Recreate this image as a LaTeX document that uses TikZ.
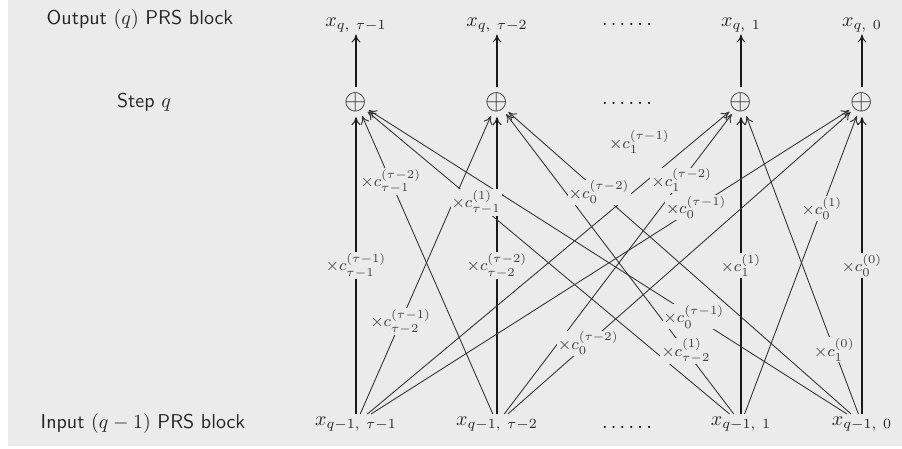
\documentclass[tikz,border=0pt]{standalone}
\usepackage{amsmath, amssymb}
\usepackage{tikz}
\usetikzlibrary{arrows.meta, positioning}
\definecolor{panelgray}{RGB}{235,235,235}
\definecolor{wiregray}{RGB}{55,55,55}
\tikzset{>={To[length=4pt, width=4.5pt, line width=0.5pt]}}
\tikzset{
  varlabel/.style={inner sep=1pt, text=black!85},
  plusnode/.style={circle, inner sep=0pt, font=\Large, text=black!85},
  blocktext/.style={font=\sffamily, text=black!85},
  thickwire/.style={->, line width=1.3pt, draw=black!90},
  thinwire/.style={->, line width=0.45pt, draw=wiregray},
  coef/.style={font=\footnotesize, fill=panelgray, inner sep=0.6pt, text=black!75},
}
% in/out/pos/label
\newcommand\coeflist{
  1/1/0.50/{$\times c^{(\tau-1)}_{\tau-1}$},
  1/2/0.31/{$\times c^{(\tau-1)}_{\tau-2}$},
  1/4/0.68/{$\times c^{(\tau-1)}_{0}$},
  2/1/0.78/{$\times c^{(\tau-2)}_{\tau-1}$},
  2/2/0.50/{$\times c^{(\tau-2)}_{\tau-2}$},
  2/3/0.78/{$\times c^{(\tau-2)}_{1}$},
  2/4/0.235/{$\times c^{(\tau-2)}_{0}$},
  3/1/0.70/{$\times c^{(1)}_{\tau-1}$},
  3/2/0.21/{$\times c^{(1)}_{\tau-2}$},
  3/3/0.50/{$\times c^{(1)}_{1}$},
  3/4/0.69/{$\times c^{(1)}_{0}$},
  4/1/0.32/{$\times c^{(\tau-1)}_{0}$},
  4/2/0.735/{$\times c^{(\tau-2)}_{0}$},
  4/3/0.215/{$\times c^{(0)}_{1}$},
  4/4/0.50/{$\times c^{(0)}_{0}$}}

\begin{document}
\begin{tikzpicture}[x=0.5pt, y=-0.5pt]
  \useasboundingbox (0,0) rectangle (902,449);
  \fill[panelgray] (8,0) rectangle (902,446);
  % row titles
  \node[blocktext] (outtitle) at (140,20) {Output $(q)$ PRS block};
  \node[blocktext] (steptitle) at (144,102) {Step $q$};
  \node[blocktext] (intitle) at (143,424) {Input $(q-1)$ PRS block};
  % columns
  \foreach \n/\x/\s in {1/356/\tau-1, 2/497/\tau-2, 3/741/1, 4/862/0} {
    \node[varlabel] (out\n) at (\x,25) {$x_{q,\ \s}$};
    \node[plusnode] (plus\n) at (\x,102) {$\oplus$};
    \node[varlabel, anchor=north] (in\n) at (\x,414) {$x_{q-1,\ \s}$};
    \draw[thickwire] (plus\n) -- (out\n);
    \draw[thickwire] (in\n) -- (plus\n);
  }
  \node (dotsout) at (627,24) {$\ldots\ldots$};
  \node (dotsplus) at (627,103) {$\ldots\ldots$};
  \node (dotsin) at (627,427) {$\ldots\ldots$};
  % cross wires
  \foreach \i in {1,...,4} {
    \foreach \o in {1,...,4} {
      \ifnum\i=\o\else
        \draw[thinwire] (in\i) -- (plus\o);
      \fi
    }
  }
  % coefficients
  \foreach \i/\o/\p/\t in \coeflist {
    \path (in\i) -- (plus\o) node[coef, pos=\p] {\t};
  }
  \path (in1) -- (plus3) node[coef, pos=0.9, left=11pt] {$\times c^{(\tau-1)}_{1}$};
\end{tikzpicture}
\end{document}
